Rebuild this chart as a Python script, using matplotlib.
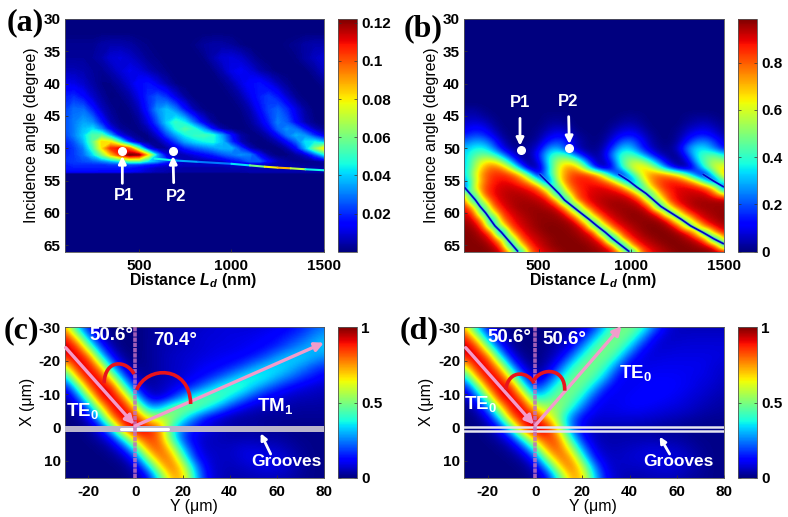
import numpy as np
import matplotlib
matplotlib.use("Agg")
import matplotlib.pyplot as plt
from matplotlib.patches import FancyArrowPatch, PathPatch
from matplotlib.path import Path
from matplotlib.transforms import Affine2D
from matplotlib.collections import LineCollection

plt.rcParams.update({
    "font.family": ["Liberation Sans", "DejaVu Sans"], "font.weight": "bold",
    "axes.unicode_minus": False, "mathtext.fontset": "custom",
    "mathtext.bf": "Liberation Sans:bold", "mathtext.rm": "Liberation Sans",
    "mathtext.it": "Liberation Sans:italic:bold",
})

# ---------- values ----------
a_x = list(range(100, 1501, 50))
a_y = [30, 32, 34, 36, 38, 40, 42, 44, 46, 47, 48, 49, 50, 51, 52, 52.5, 53, 53.6, 53.9, 66]
a_z = [
 [0]*29,
 [0]*29,
 [2,2,2,2,4,5,5,4,2,1,0,0,0,0,1,3,4,4,3,1,0,0,0,0,1,2,4,5,5],
 [3,3,3,3,5,9,10,8,5,2,1,0,0,0,0,1,5,9,10,8,4,1,0,0,0,1,4,7,9],
 [6,6,5,3,2,5,9,12,10,6,3,1,0,0,0,0,1,5,11,13,10,5,2,0,0,0,0,3,7],
 [12,11,8,4,1,1,4,9,15,17,11,5,1,0,0,0,0,1,4,10,15,17,12,6,2,0,0,0,2],
 [18,20,15,8,3,0,1,4,11,20,25,20,10,3,0,0,0,0,1,4,11,18,22,17,8,2,0,0,0],
 [22,28,28,18,7,2,0,1,6,18,32,38,30,16,5,1,0,0,0,1,5,14,23,27,20,10,3,0,0],
 [24,30,35,32,18,5,1,0,2,10,24,40,50,44,28,12,3,0,0,0,2,8,18,30,26,14,5,1,0],
 [24,30,38,42,30,12,3,1,1,5,16,32,46,54,48,34,15,4,1,0,1,4,12,26,32,28,16,6,2],
 [22,30,40,54,56,35,12,4,1,1,8,22,34,44,50,52,48,34,16,4,1,1,5,14,28,36,32,20,10],
 [18,25,36,56,82,78,50,20,5,1,2,10,22,34,40,44,46,38,20,6,1,0,1,5,14,26,42,44,36],
 [16,22,30,50,80,105,110,95,55,15,3,3,10,18,24,28,32,36,36,22,6,1,0,0,4,14,36,60,80],
 [18,22,28,40,60,85,105,122,118,80,35,10,4,6,10,14,18,24,28,32,30,14,3,0,0,3,8,24,42],
 [20,22,24,26,30,36,44,56,56,42,34,22,12,6,4,4,6,8,14,18,26,26,14,6,3,1,1,2,4],
 [18,20,20,20,20,22,22,24,22,18,14,10,8,7,7,7,7,7,8,8,8,8,7,6,4,3,2,2,2],
 [18,18,18,18,18,18,18,17,14,10,7,6,5,4,4,4,4,4,5,5,5,5,5,5,5,4,4,4,4],
 [15,15,15,15,14,14,14,13,11,8,6,5,4,4,4,4,4,4,4,4,5,5,5,5,5,5,5,5,5],
 [0]*29,
 [0]*29,
]
# thin bright ridge of panel (a)
a_ridge_x = [585, 700, 820, 1000, 1100, 1180, 1250, 1320, 1400, 1500]
a_ridge_y = [51.6, 51.9, 52.1, 52.4, 52.65, 52.85, 53.0, 53.1, 53.25, 53.4]
a_ridge_v = [0.045, 0.035, 0.03, 0.042, 0.06, 0.08, 0.088, 0.07, 0.045, 0.035]

b_x = list(range(100, 1501, 50))
b_y = list(range(30, 67))
b_z = [[0]*29]*14 + [
 [2,3,1]+[0]*26,
 [4,5,3,1,0,0,0,0,0,1,1,1,0,0,0,0,0,1,2,1,0,0,0,0,1,2,2,1,0],
 [6,8,7,3,0,0,0,0,0,2,3,2,0,0,0,0,1,3,4,2,0,0,0,0,2,4,5,3,1],
 [9,13,12,6,1,0,0,0,1,4,7,5,1,0,0,0,3,7,8,5,1,0,0,1,5,8,9,6,2],
 [14,19,18,11,3,0,0,0,2,8,12,10,3,1,0,1,6,12,14,9,3,0,0,2,8,14,15,10,4],
 [22,28,28,20,7,1,0,1,4,14,20,16,6,2,0,2,10,22,24,14,5,1,0,3,14,24,26,18,8],
 [30,36,38,28,12,3,2,3,8,25,30,18,6,2,1,4,18,32,32,18,7,2,1,6,24,34,34,24,12],
 [32,42,48,44,30,12,2,2,14,34,44,42,24,8,2,6,26,42,44,34,18,6,2,1,16,36,44,46,36],
 [30,48,62,66,54,32,8,1,8,34,54,62,54,30,6,3,18,42,56,56,42,22,6,1,6,30,46,56,52],
 [30,50,70,80,76,58,30,3,3,28,58,74,74,52,18,1,12,38,58,68,62,44,20,4,1,16,42,60,66],
 [30,55,76,84,86,82,70,42,6,32,58,76,84,84,78,58,22,8,38,60,74,78,74,64,44,16,6,44,72],
 [25,50,75,86,89,88,82,70,42,10,55,78,86,88,86,80,68,38,15,50,72,82,86,85,78,62,32,10,50],
 [10,58,78,88,91,92,90,86,78,45,35,70,84,88,90,90,86,78,50,28,64,80,88,90,90,88,80,62,10],
 [62,35,78,88,92,94,94,92,88,76,25,55,80,88,91,92,92,90,84,55,32,70,84,90,92,92,92,80,60],
 [82,25,58,84,91,94,95,95,93,90,70,20,74,87,92,94,95,95,92,86,45,48,82,90,93,95,95,95,95],
 [90,66,28,76,88,93,96,96,96,93,90,65,28,76,88,93,96,96,96,93,83,25,58,84,91,95,96,96,96],
 [92,84,35,53,83,90,94,96,97,97,95,88,58,38,79,89,93,96,97,97,93,84,35,53,83,90,94,96,97],
 [95,91,70,20,74,87,92,95,97,97,97,95,87,50,44,81,90,94,97,97,97,95,86,45,48,82,91,94,97],
 [97,95,84,35,53,83,90,94,97,98,98,97,95,84,35,53,83,90,94,97,98,98,95,86,45,48,82,90,94],
 [98,97,92,78,10,68,86,92,95,98,98,98,96,93,83,25,58,84,91,95,98,98,98,95,90,66,28,76,88],
 [98,98,95,89,62,35,78,89,93,96,98,98,98,95,92,78,10,68,86,92,95,98,98,98,95,91,74,15,71],
 [98,98,98,94,83,25,58,84,91,95,98,98,98,98,95,91,74,15,71,87,92,95,98,98,98,96,93,83,25],
 [98,98,98,97,92,70,20,74,87,92,95,98,98,98,97,95,91,70,20,74,87,92,95,98,98,98,98,96,93],
]
# thin dark valleys of panel (b): Ld (nm), angle (degree)
b_valley1_x = [100, 130, 160, 185, 215, 240, 265, 300, 330, 360, 390]
b_valley1_y = [56, 57, 58, 59, 60, 61, 62, 63, 64, 65, 66]
b_valley2_x = [505, 540, 575, 610, 640, 684, 728, 773, 815, 860, 900, 945, 990]
b_valley2_y = [54, 55, 56, 57, 58, 59, 60, 61, 62, 63, 64, 65, 66]
b_valley3_x = [930, 985, 1030, 1080, 1120, 1160, 1215, 1270, 1320, 1385, 1445, 1500]
b_valley3_y = [54, 55, 56, 57, 58, 59, 60, 61, 62, 63, 64, 64.8]
b_valley4_x = [1385, 1440, 1500]
b_valley4_y = [54, 55, 56]

cd_y = list(range(-30, 81, 5))
cd_x = [-30, -27, -24, -21, -18, -15, -12, -9, -6, -3, 0, 3, 6, 9, 12, 15]
c_z = [
 [72,33,12,3,0,0,0,2,3,4,5,6,7,8,8,8,8,9,10,12,15,20,24],
 [92,64,25,7,1,0,0,2,4,5,6,7,8,8,9,9,10,11,13,16,20,26,30],
 [95,90,52,18,4,0,0,2,4,5,6,7,8,9,9,10,11,13,16,22,27,31,33],
 [87,96,85,40,12,2,0,2,4,6,7,8,9,10,11,12,15,20,28,33,34,30,26],
 [58,90,95,73,30,8,1,2,4,6,7,9,11,12,15,20,28,34,36,32,26,20,16],
 [28,70,94,92,60,22,5,2,4,6,8,11,14,20,28,36,40,37,30,24,18,14,10],
 [10,36,80,96,90,46,15,3,5,8,12,18,28,38,44,41,32,24,17,12,9,7,6],
 [3,17,50,90,96,78,35,10,6,14,28,42,48,46,36,26,17,11,8,6,5,5,4],
 [0,5,23,62,93,94,66,30,30,48,53,50,40,28,17,10,6,5,4,4,3,3,3],
 [0,1,9,34,78,95,90,60,58,55,40,24,12,7,4,3,3,2,2,2,2,2,2],
 [0,0,2,12,40,86,98,92,78,42,22,14,9,6,4,3,3,2,2,1,1,1,1],
 [0,0,1,4,14,42,76,86,80,44,18,9,6,5,4,4,4,3,3,2,1,1,1],
 [0,0,0,1,4,16,44,78,84,64,30,12,6,6,6,8,8,7,6,4,2,1,1],
 [0,0,0,0,1,4,18,54,80,78,46,16,8,6,6,8,10,10,9,6,3,1,1],
 [0,0,0,0,0,1,6,26,62,82,66,30,10,6,5,6,7,9,8,6,3,1,1],
 [0,0,0,0,0,0,2,10,38,72,72,36,12,6,4,4,5,5,5,4,2,1,1],
]
d_z = [
 [72,33,12,3,0,0,0,0,2,4,7,15,34,48,50,44,26,10,6,5,5,5,5],
 [92,64,25,7,1,0,0,1,3,6,12,30,46,50,46,30,12,7,6,7,7,7,7],
 [95,90,52,18,4,0,0,2,5,10,26,44,50,48,34,15,8,7,8,8,8,8,8],
 [87,96,85,40,12,2,0,3,8,22,41,49,49,38,18,9,8,9,9,9,9,9,8],
 [58,90,95,73,30,8,1,5,18,38,49,49,41,22,9,9,10,10,10,10,10,8,7],
 [28,70,94,92,60,22,5,12,32,47,50,45,30,12,10,10,11,11,11,10,9,8,6],
 [10,36,80,96,90,46,15,28,45,50,47,32,15,10,10,11,12,12,11,10,8,7,5],
 [3,17,50,90,96,78,35,42,50,49,37,18,10,10,11,12,12,11,10,8,7,5,4],
 [0,5,23,62,93,94,66,54,54,42,24,11,9,10,11,11,10,9,8,7,5,4,3],
 [0,1,9,34,78,95,90,70,50,26,12,8,8,8,8,8,7,6,5,4,3,2,2],
 [0,0,2,12,40,86,98,94,62,25,10,5,4,4,4,3,3,2,2,1,1,1,1],
 [0,0,1,4,14,42,76,86,80,40,14,6,4,4,4,4,4,3,3,2,1,1,1],
 [0,0,0,1,4,16,44,78,84,60,26,9,5,5,6,7,8,7,6,4,2,1,1],
 [0,0,0,0,1,4,18,54,80,78,44,14,7,6,7,8,9,9,8,6,3,1,1],
 [0,0,0,0,0,1,6,26,62,82,64,28,9,6,6,6,7,8,7,5,3,1,1],
 [0,0,0,0,0,0,2,10,38,72,72,36,12,6,4,4,5,5,5,3,2,1,1],
]
a_ticks_x = [500, 1000, 1500]
a_ticks_y = [30, 35, 40, 45, 50, 55, 60, 65]
cd_ticks_x = [-20, 0, 20, 40, 60, 80]
cd_ticks_y = [-30, -20, -10, 0, 10]
a_cb_ticks = [0.02, 0.04, 0.06, 0.08, 0.1, 0.12]
b_cb_ticks = [0, 0.2, 0.4, 0.6, 0.8]
cd_cb_ticks = [0, 0.5, 1]
a_cb_labels = ["0.02", "0.04", "0.06", "0.08", "0.1", "0.12"]
b_cb_labels = ["0", "0.2", "0.4", "0.6", "0.8"]
cd_cb_labels = ["0", "0.5", "1"]

# ---------- layout ----------
W, H = 788, 517
fig = plt.figure(figsize=(W/100, H/100), dpi=100)
PX = Affine2D().scale(1/W, -1/H).translate(0, 1) + fig.transFigure
def px_axes(l, t, r, b):
    return fig.add_axes([l/W, 1-b/H, (r-l)/W, (b-t)/H])
def Z(ox, oy, zx, zy):
    return (ox + zx/3, oy + zy/3)

FS = 11
def panel(box, cbox, x, y, z, scale, vmax, xlim, ylim, xt, yt, cbt, cbl, xl, yl, xlpos, ylpos, smooth=True):
    ax = px_axes(*box)
    data = np.array(z, float) * scale
    if smooth:
        dx = (x[1]-x[0])/2; dy = (y[1]-y[0])/2
        ax.imshow(data, cmap="jet", vmin=0, vmax=vmax, aspect="auto", interpolation="bicubic",
                  interpolation_stage="data",
                  extent=(x[0]-dx, x[-1]+dx, y[-1]+dy, y[0]-dy))
    else:
        ax.contourf(x, y, data, levels=np.linspace(0, vmax, 200), cmap="jet", extend="both", antialiased=False)
    ax.set_xlim(*xlim); ax.set_ylim(*ylim)
    ax.set_xticks(xt); ax.set_yticks(yt)
    ax.tick_params(direction="in", length=2.5, width=0.6, labelsize=FS, pad=3, color="#333333")
    ax.tick_params(axis="x", pad=5)
    ax.set_xlabel(xl, fontsize=11.4, va="center", ha="center")
    ax.set_ylabel(yl, fontsize=11.4, va="center", ha="center")
    ax.xaxis.set_label_coords(*xlpos, transform=PX)
    ax.yaxis.set_label_coords(*ylpos, transform=PX)
    for s in ax.spines.values():
        s.set_linewidth(0.6); s.set_color("#555555")
    cax = px_axes(*cbox)
    sm = plt.cm.ScalarMappable(norm=plt.Normalize(0, vmax), cmap="jet")
    cb = fig.colorbar(sm, cax=cax)
    cb.set_ticks(cbt); cb.set_ticklabels(cbl)
    cax.tick_params(direction="in", length=2, width=0.5, labelsize=FS, pad=3, left=True, right=True, color="#333333")
    cb.outline.set_linewidth(0.6); cb.outline.set_edgecolor("#555555")
    return ax

DIST = r"$\mathbf{Distance}\ \mathit{L_d}\ \mathrm{(nm)}$"
ax_a = panel((64.7, 19, 324, 251.7), (338, 19, 357.3, 251.7), a_x, a_y, a_z, 0.001, 0.122,
             (100, 1500), (66, 30), a_ticks_x, a_ticks_y, a_cb_ticks, a_cb_labels,
             DIST, "Incidence angle (degree)", (193, 281), (32, 135), smooth=False)
ax_b = panel((464.3, 19, 724, 251.7), (738, 19, 757.3, 251.7), b_x, b_y, b_z, 0.01, 0.985,
             (100, 1500), (66, 30), a_ticks_x, a_ticks_y, b_cb_ticks, b_cb_labels,
             DIST, "Incidence angle (degree)", (593, 281), (432, 135))
ax_c = panel((64.7, 327.3, 324, 477.7), (338, 327.3, 357.3, 477.7), cd_y, cd_x, c_z, 0.01, 1.0,
             (-30, 80), (15, -30), cd_ticks_x, cd_ticks_y, cd_cb_ticks, cd_cb_labels,
             "Y (μm)", "X (μm)", (194, 507), (28, 402))
ax_d = panel((464.3, 327.3, 724, 477.7), (738, 327.3, 757.3, 477.7), cd_y, cd_x, d_z, 0.01, 1.0,
             (-30, 80), (15, -30), cd_ticks_x, cd_ticks_y, cd_cb_ticks, cd_cb_labels,
             "Y (μm)", "X (μm)", (593, 506), (427, 402))

# thin ridge of (a)
pts = np.column_stack([a_ridge_x, a_ridge_y])
segs = np.stack([pts[:-1], pts[1:]], axis=1)
lc = LineCollection(segs, cmap="jet", norm=plt.Normalize(0, 0.122), linewidths=1.5, zorder=3, capstyle="round")
lc.set_array(np.array(a_ridge_v[:-1]))
ax_a.add_collection(lc)

# valleys of (b)
for vx, vy in [(b_valley1_x, b_valley1_y), (b_valley2_x, b_valley2_y),
               (b_valley3_x, b_valley3_y), (b_valley4_x, b_valley4_y)]:
    ax_b.plot(vx, vy, color="#30b0e0", lw=2.4, alpha=0.55, solid_capstyle="butt")
    ax_b.plot(vx, vy, color="#0000c8", lw=1.2, solid_capstyle="butt")

def txt(s, p, size=11, color="white", **kw):
    fig.text(p[0], p[1], s, transform=PX, fontsize=size, color=color, ha="center", va="center", **kw)

def arrow(p, q, color="white", lw=2.0, ms=11):
    fig.add_artist(FancyArrowPatch(p, q, transform=PX, arrowstyle="-|>", mutation_scale=ms, color=color,
                                   lw=lw, shrinkA=0, shrinkB=0, zorder=6))

def arc(pts, color="#e8141c", lw=2.6):
    path = Path(pts, [Path.MOVETO, Path.CURVE4, Path.CURVE4, Path.CURVE4])
    fig.add_artist(PathPatch(path, transform=PX, fc="none", ec=color, lw=lw, zorder=6))

# panel letters
SERIF = ["Liberation Serif"]
for s, p in [("(a)", (25, 23)), ("(b)", (423, 29)), ("(c)", (21, 331)), ("(d)", (419, 331))]:
    fig.text(p[0], p[1], s, transform=PX, fontsize=23, family=SERIF, weight="bold",
             color="black", ha="center", va="center", zorder=7)

# P1 / P2
ax_a.plot([411, 683], [50.4, 50.4], "o", color="white", ms=5.5, zorder=5)
ax_b.plot([404, 664], [50.3, 50.0], "o", color="white", ms=5.5, zorder=5)
arrow(Z(0, 0, 367, 550), Z(0, 0, 367, 468))
arrow(Z(0, 0, 521, 548), Z(0, 0, 519, 468))
arrow(Z(394, 0, 378, 355), Z(394, 0, 378, 437))
arrow(Z(394, 0, 524, 350), Z(394, 0, 526, 432))
txt("P1", Z(0, 0, 373, 588), 12)
txt("P2", Z(0, 0, 527, 590), 12)
txt("P1", Z(394, 0, 378, 307), 12)
txt("P2", Z(394, 0, 523, 303), 12)

# grooves and normals
ax_c.axhspan(-0.4, 1.2, color="#b9b4cc", lw=0, zorder=4)
ax_c.plot([-6, 14], [0.35, 0.35], color="white", lw=2.2, zorder=4, solid_capstyle="round")
for y0 in (-0.3, 1.0):
    ax_d.axhline(y0, color="#e6e4f0", lw=1.8, zorder=4)
for ax in (ax_c, ax_d):
    ax.axvline(0, color="#c070c0", lw=2.6, alpha=0.85, ls=(0, (1.2, 0.25)), zorder=4)

# beams
PINK = "#f29ccb"
arrow(Z(0, 300, 197, 143), Z(0, 300, 403, 374), PINK, 2.4, 13)
arrow(Z(0, 300, 405, 378), Z(0, 300, 972, 128), PINK, 2.4, 13)
arrow(Z(394, 300, 215, 143), Z(394, 300, 420, 374), PINK, 2.4, 13)
arrow(Z(394, 300, 425, 375), Z(394, 300, 683, 78), PINK, 2.4, 13)

# angle arcs
arc([Z(0, 300, 312, 250), Z(0, 300, 315, 175), Z(0, 300, 380, 180), Z(0, 300, 402, 222)])
arc([Z(0, 300, 410, 270), Z(0, 300, 440, 195), Z(0, 300, 570, 195), Z(0, 300, 572, 312)])
arc([Z(394, 300, 335, 268), Z(394, 300, 345, 205), Z(394, 300, 405, 215), Z(394, 300, 420, 250)])
arc([Z(394, 300, 420, 240), Z(394, 300, 445, 200), Z(394, 300, 515, 205), Z(394, 300, 512, 272)])

# annotations
txt("50.6°", Z(0, 300, 335, 108), 13.5)
txt("70.4°", Z(0, 300, 525, 122), 13.5)
txt("50.6°", Z(394, 300, 345, 112), 13.5)
txt("50.6°", Z(394, 300, 510, 118), 13.5)
txt(r"$\mathbf{TE_0}$", Z(0, 300, 247, 332), 13.5)
txt(r"$\mathbf{TM_1}$", Z(0, 300, 824, 318), 13.5)
txt(r"$\mathbf{TE_0}$", Z(394, 300, 725, 220), 13.5)
txt(r"$\mathbf{TE_0}$", Z(394, 300, 258, 312), 13.5)
txt("Grooves", Z(0, 300, 860, 485), 12.5)
txt("Grooves", Z(394, 300, 853, 485), 12.5)
arrow(Z(0, 300, 812, 462), Z(0, 300, 782, 400), ms=9)
arrow(Z(394, 300, 827, 462), Z(394, 300, 797, 410), ms=9)

fig.savefig("out.png", dpi=100, facecolor="white")
